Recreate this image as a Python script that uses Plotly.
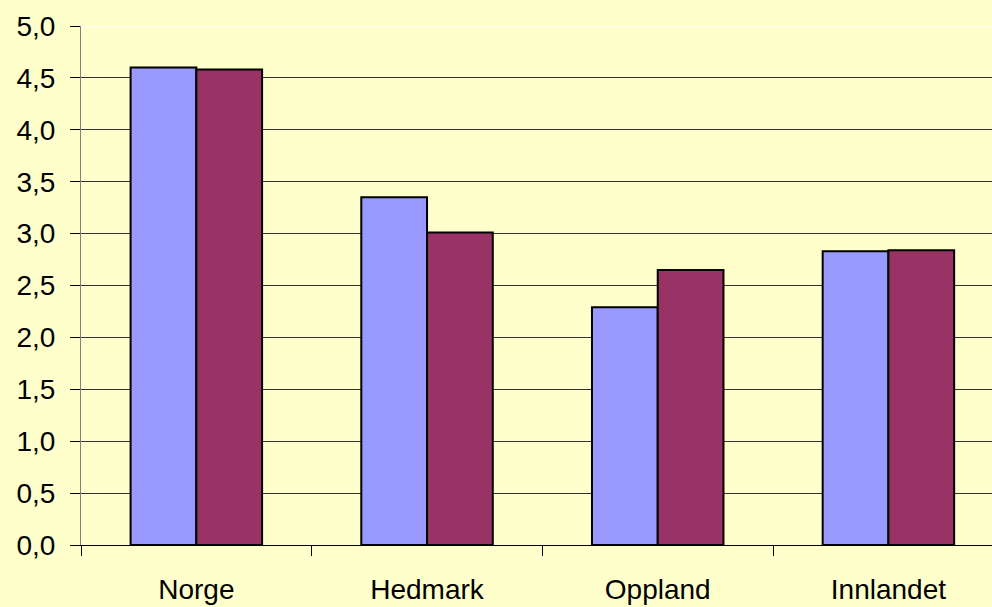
import plotly.graph_objects as go

categories = ["Norge", "Hedmark", "Oppland", "Innlandet"]
series_a = [4.60, 3.35, 2.29, 2.83]
series_b = [4.58, 3.01, 2.65, 2.84]
y_ticks = [0, 0.5, 1.0, 1.5, 2.0, 2.5, 3.0, 3.5, 4.0, 4.5, 5.0]

BG = "#FFFFCC"
FONT = "Liberation Sans, Arial, sans-serif"

fig = go.Figure()
fig.add_trace(go.Bar(x=categories, y=series_a, name="A",
                     marker=dict(color="#9999FF", line=dict(color="#000000", width=2))))
fig.add_trace(go.Bar(x=categories, y=series_b, name="B",
                     marker=dict(color="#993366", line=dict(color="#000000", width=2))))

fig.update_layout(
    width=992, height=607,
    paper_bgcolor=BG, plot_bgcolor=BG,
    margin=dict(l=81, r=0, t=26, b=62),
    barmode="group", bargap=0.43, bargroupgap=0,
    showlegend=False,
    separators=",.",
    font=dict(family=FONT, size=28, color="#000000"),
)
fig.update_xaxes(
    range=[-0.5, 3.449],
    showline=True, linecolor="#000000", linewidth=1,
    ticks="outside", ticklen=10, tickcolor="#000000", tickwidth=1,
    tickson="boundaries",
    showgrid=False,
    ticklabelstandoff=19,
    tickfont=dict(family=FONT, size=28, color="#000000"),
)
fig.update_yaxes(
    range=[0, 5], tickvals=y_ticks, tickformat=".1f",
    showline=True, linecolor="#808080", linewidth=1,
    ticks="outside", ticklen=10, tickcolor="#000000", tickwidth=1,
    showgrid=True, gridcolor="#333333", gridwidth=1,
    zeroline=False,
    ticklabelstandoff=9,
    tickfont=dict(family=FONT, size=28, color="#000000"),
)
fig.add_hline(y=y_ticks[-1], line=dict(color="#FFFFFF", width=2), layer="above")

fig.write_html(
    "out.html",
    config={"displayModeBar": False},
    post_script="document.body.style.margin='0';document.body.style.overflow='hidden';"
                "document.body.style.background='" + BG + "';",
)
